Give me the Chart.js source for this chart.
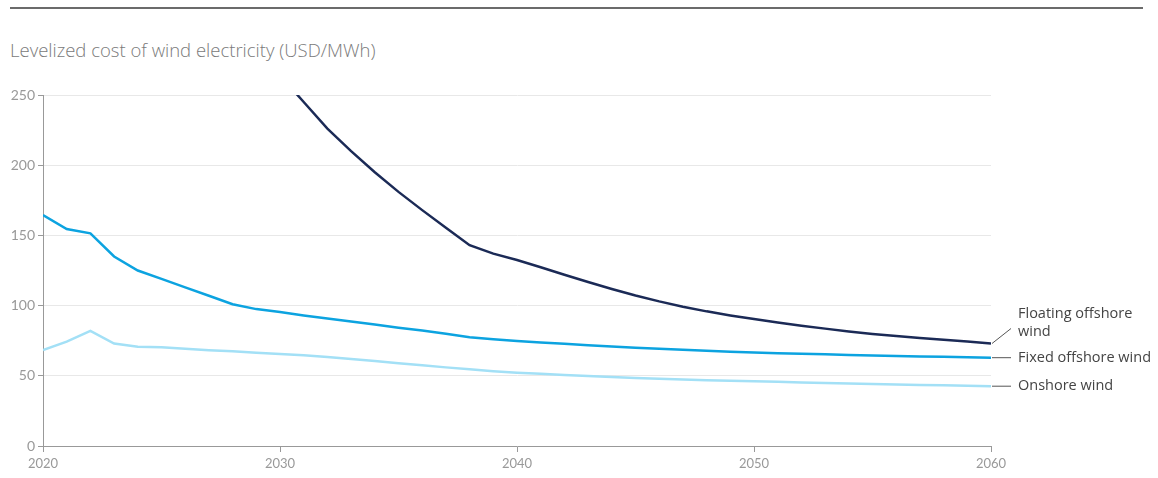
<!DOCTYPE html>
<html>
<head>
<meta charset="utf-8">
<script src="https://cdn.jsdelivr.net/npm/chart.js@4"></script>
<style>
  body { margin: 0; background: #fff; font-family: "Open Sans", Lato, sans-serif; }
  #rule { position: absolute; left: 10px; top: 7px; width: 1133px; height: 2px; background: #6b6b6b; }
  #title { position: absolute; left: 10px; top: 37px; font-size: 18.5px; line-height: 26px; color: #7a7a7a; font-weight: 300; }
  #wrap { position: absolute; left: 0; top: 80px; width: 1158px; height: 398px; }
</style>
</head>
<body>
<div id="rule"></div>
<div id="title">Levelized cost of wind electricity (USD/MWh)</div>
<div id="wrap"><canvas id="c"></canvas></div>
<script>
const years = [];
for (let y = 2020; y <= 2060; y++) years.push(y);

const floating = [null, null, null, null, null, null, null, null, null, null,
  264, 245, 226, 210, 195, 181, 168, 155.5, 143, 137,
  132.5, 127.3, 122, 116.8, 111.8, 107.2, 103, 99.2, 95.9, 93,
  90.4, 88, 85.7, 83.6, 81.6, 79.8, 78.3, 77, 75.7, 74.4,
  73];
const fixed = [164.5, 154.5, 151.5, 135, 125, 119, 113, 107, 101, 97.5,
  95.5, 93, 90.8, 88.7, 86.5, 84.3, 82.2, 80, 77.5, 76,
  74.8, 73.8, 72.8, 71.8, 70.8, 70, 69.2, 68.5, 67.8, 67.2,
  66.6, 66.1, 65.7, 65.3, 64.9, 64.5, 64.1, 63.8, 63.5, 63.2,
  62.9];
const onshore = [68.4, 74.3, 82, 73, 70.7, 70.3, 69.2, 68.2, 67.4, 66.5,
  65.6, 64.6, 63.4, 62, 60.6, 59, 57.5, 56, 54.6, 53.3,
  52.2, 51.4, 50.6, 49.9, 49.2, 48.5, 47.9, 47.4, 46.9, 46.5,
  46.1, 45.7, 45.3, 44.9, 44.5, 44.1, 43.8, 43.5, 43.2, 42.9,
  42.6];

const seriesNames = [["Floating offshore", "wind"], ["Fixed offshore wind"], ["Onshore wind"]];
const yTicks = [0, 50, 100, 150, 200, 250];
const xTicks = [2020, 2030, 2040, 2050, 2060];

function pts(arr) {
  return years.map((yr, i) => ({ x: yr, y: arr[i] }));
}

const endLabels = {
  id: 'endLabels',
  afterDatasetsDraw(chart) {
    const ctx = chart.ctx;
    const offsets = [-15, 0, 0];
    ctx.save();
    ctx.font = '14.5px "Open Sans", Lato, sans-serif';
    ctx.fillStyle = '#444';
    ctx.textBaseline = 'middle';
    chart.data.datasets.forEach((ds, i) => {
      const meta = chart.getDatasetMeta(i);
      const last = meta.data[meta.data.length - 1];
      const dy = offsets[i];
      ctx.strokeStyle = '#555';
      ctx.lineWidth = 1;
      ctx.beginPath();
      ctx.moveTo(last.x + 1, last.y);
      ctx.lineTo(last.x + 20, last.y + dy);
      ctx.stroke();
      const lines = seriesNames[i];
      const startY = last.y + dy - (lines.length - 1) * 18 + (lines.length > 1 ? 3 : 0);
      lines.forEach((t, k) => ctx.fillText(t, last.x + 27, startY + k * 18));
    });
    ctx.restore();
  }
};

new Chart(document.getElementById('c'), {
  type: 'line',
  data: {
    datasets: [
      { label: 'Floating offshore wind', data: pts(floating), borderColor: '#1b2a56', borderWidth: 2.5, clip: 0 },
      { label: 'Fixed offshore wind', data: pts(fixed), borderColor: '#0ca3e0', borderWidth: 2.5 },
      { label: 'Onshore wind', data: pts(onshore), borderColor: '#a3e0f6', borderWidth: 2.5 }
    ]
  },
  options: {
    responsive: true,
    maintainAspectRatio: false,
    animation: false,
    layout: { padding: { left: 0, right: 167, top: 15, bottom: 0 } },
    elements: { point: { radius: 0 }, line: { tension: 0 } },
    plugins: { legend: { display: false }, tooltip: { enabled: false } },
    scales: {
      x: {
        type: 'linear',
        min: 2020,
        max: 2060,
        afterBuildTicks: s => { s.ticks = xTicks.map(v => ({ value: v })); },
        afterFit: s => { s.height = 32; },
        grid: { drawOnChartArea: false, tickLength: 6, color: '#999', tickColor: '#999' },
        border: { color: '#999', width: 1 },
        ticks: { color: '#999', font: { size: 13, family: 'Lato, "Noto Sans", sans-serif' }, padding: 4, callback: v => String(v) }
      },
      y: {
        min: 0,
        max: 250,
        afterBuildTicks: s => { s.ticks = yTicks.map(v => ({ value: v })); },
        afterFit: s => { s.width = 43; },
        grid: { color: '#e8e8e8', tickLength: 5, tickColor: '#999' },
        border: { color: '#999', width: 1 },
        ticks: { color: '#999', font: { size: 14, family: 'Lato, "Noto Sans", sans-serif' }, padding: 3 }
      }
    }
  },
  plugins: [endLabels]
});
</script>
</body>
</html>
